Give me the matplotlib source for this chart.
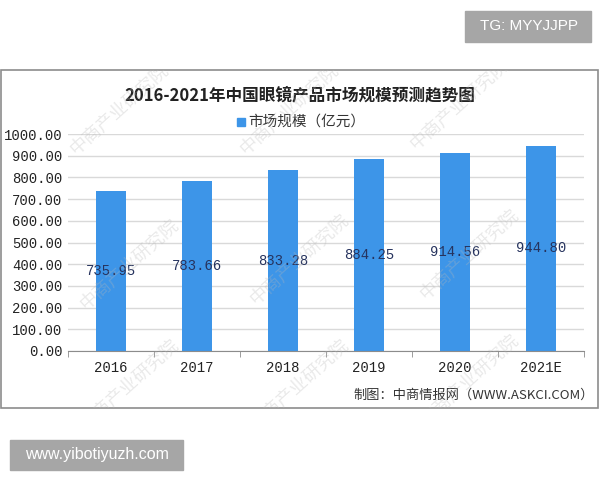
import numpy as np
import matplotlib as mpl
mpl.use('Agg')
import matplotlib.pyplot as plt
from matplotlib.patches import Rectangle

plt.rcParams['font.family'] = ['Noto Sans CJK SC', 'DejaVu Sans']

years = ["2016", "2017", "2018", "2019", "2020", "2021E"]
market_size = [735.95, 783.66, 833.28, 884.25, 914.56, 944.80]
y_ticks = [0, 100, 200, 300, 400, 500, 600, 700, 800, 900, 1000]

title = "2016-2021年中国眼镜产品市场规模预测趋势图"
series_name = "市场规模（亿元）"
source = "制图：中商情报网（WWW.ASKCI.COM）"
watermark = "中商产业研究院"

bar_color = "#3D95E8"
label_color = "#26335e"
num_font = "Liberation Mono"

fig = plt.figure(figsize=(6, 4.8), dpi=100)
W, H = 600.0, 480.0

def fx(px):
    return px / W

def fy(py):
    return 1 - py / H

# chart frame
frame = Rectangle((fx(1), fy(408)), fx(598) - fx(1), fy(70) - fy(408),
                  transform=fig.transFigure, fill=False,
                  edgecolor="#8c8c8c", linewidth=1.2, zorder=0)
fig.patches.append(frame)

ax = fig.add_axes([fx(68), fy(351), fx(584) - fx(68), fy(134) - fy(351)])
x = np.arange(len(years))
ax.bar(x, market_size, width=0.36, color=bar_color, zorder=2)

for xi, v in zip(x, market_size):
    ax.text(xi, v / 2, "%.2f" % v, ha="center", va="center",
            fontsize=10, color=label_color, family=num_font, zorder=3)

ax.set_xlim(-0.5, len(years) - 0.5)
ax.set_ylim(0, 1000)
ax.set_yticks(y_ticks)
ax.set_yticklabels(["%.2f" % t for t in y_ticks], family=num_font,
                   fontsize=10, color="#222222")
ax.set_xticks(x)
ax.set_xticklabels(years, family=num_font, fontsize=10, color="#222222")
ax.set_xticks(np.arange(-0.5, len(years), 1.0), minor=True)
ax.tick_params(axis="x", which="major", length=0, pad=7)
ax.tick_params(axis="x", which="minor", length=4, color="#8c8c8c", direction="out")
ax.tick_params(axis="y", length=0, pad=4)
ax.grid(axis="y", color="#d9d9d9", linewidth=1, zorder=0)
ax.set_axisbelow(True)
for s in ["top", "right", "left"]:
    ax.spines[s].set_visible(False)
ax.spines["bottom"].set_color("#8c8c8c")

# title, legend, source
fig.text(0.5, fy(95), title, ha="center", va="center", fontsize=12,
         fontweight="bold", color="#222222")
fig.patches.append(Rectangle((fx(237), fy(126)), fx(8), 8 / H,
                             transform=fig.transFigure, color=bar_color))
fig.text(fx(248), fy(122), series_name, ha="left", va="center",
         fontsize=10.5, color="#333333")
fig.text(fx(594), fy(395), source, ha="right", va="center",
         fontsize=9.5, color="#333333")

# faint watermarks, kept inside the frame
for wx, wy in [(120, 110), (290, 110), (460, 105),
               (130, 265), (300, 260), (470, 255),
               (130, 385), (300, 385), (470, 380)]:
    t = fig.text(fx(wx), fy(wy), watermark, ha="center", va="center", fontsize=13,
                 rotation=42, color="#b8b8b8", alpha=0.3, zorder=5)
    t.set_clip_path(frame)

# gray tag boxes
fig.patches.append(Rectangle((fx(465), fy(42)), fx(591) - fx(465), 31 / H,
                             transform=fig.transFigure, color="#a6a6a6"))
fig.text(fx(529), fy(26.5), "TG: MYYJJPP", ha="center", va="center",
         fontsize=11, color="white", family="Liberation Sans")
fig.patches.append(Rectangle((fx(10), fy(470)), fx(183) - fx(10), 30 / H,
                             transform=fig.transFigure, color="#a6a6a6"))
fig.text(fx(96.5), fy(455), "www.yibotiyuzh.com", ha="center", va="center",
         fontsize=11.5, color="white", family="Liberation Sans")

plt.savefig("out.png", dpi=100)
plt.close(fig)
